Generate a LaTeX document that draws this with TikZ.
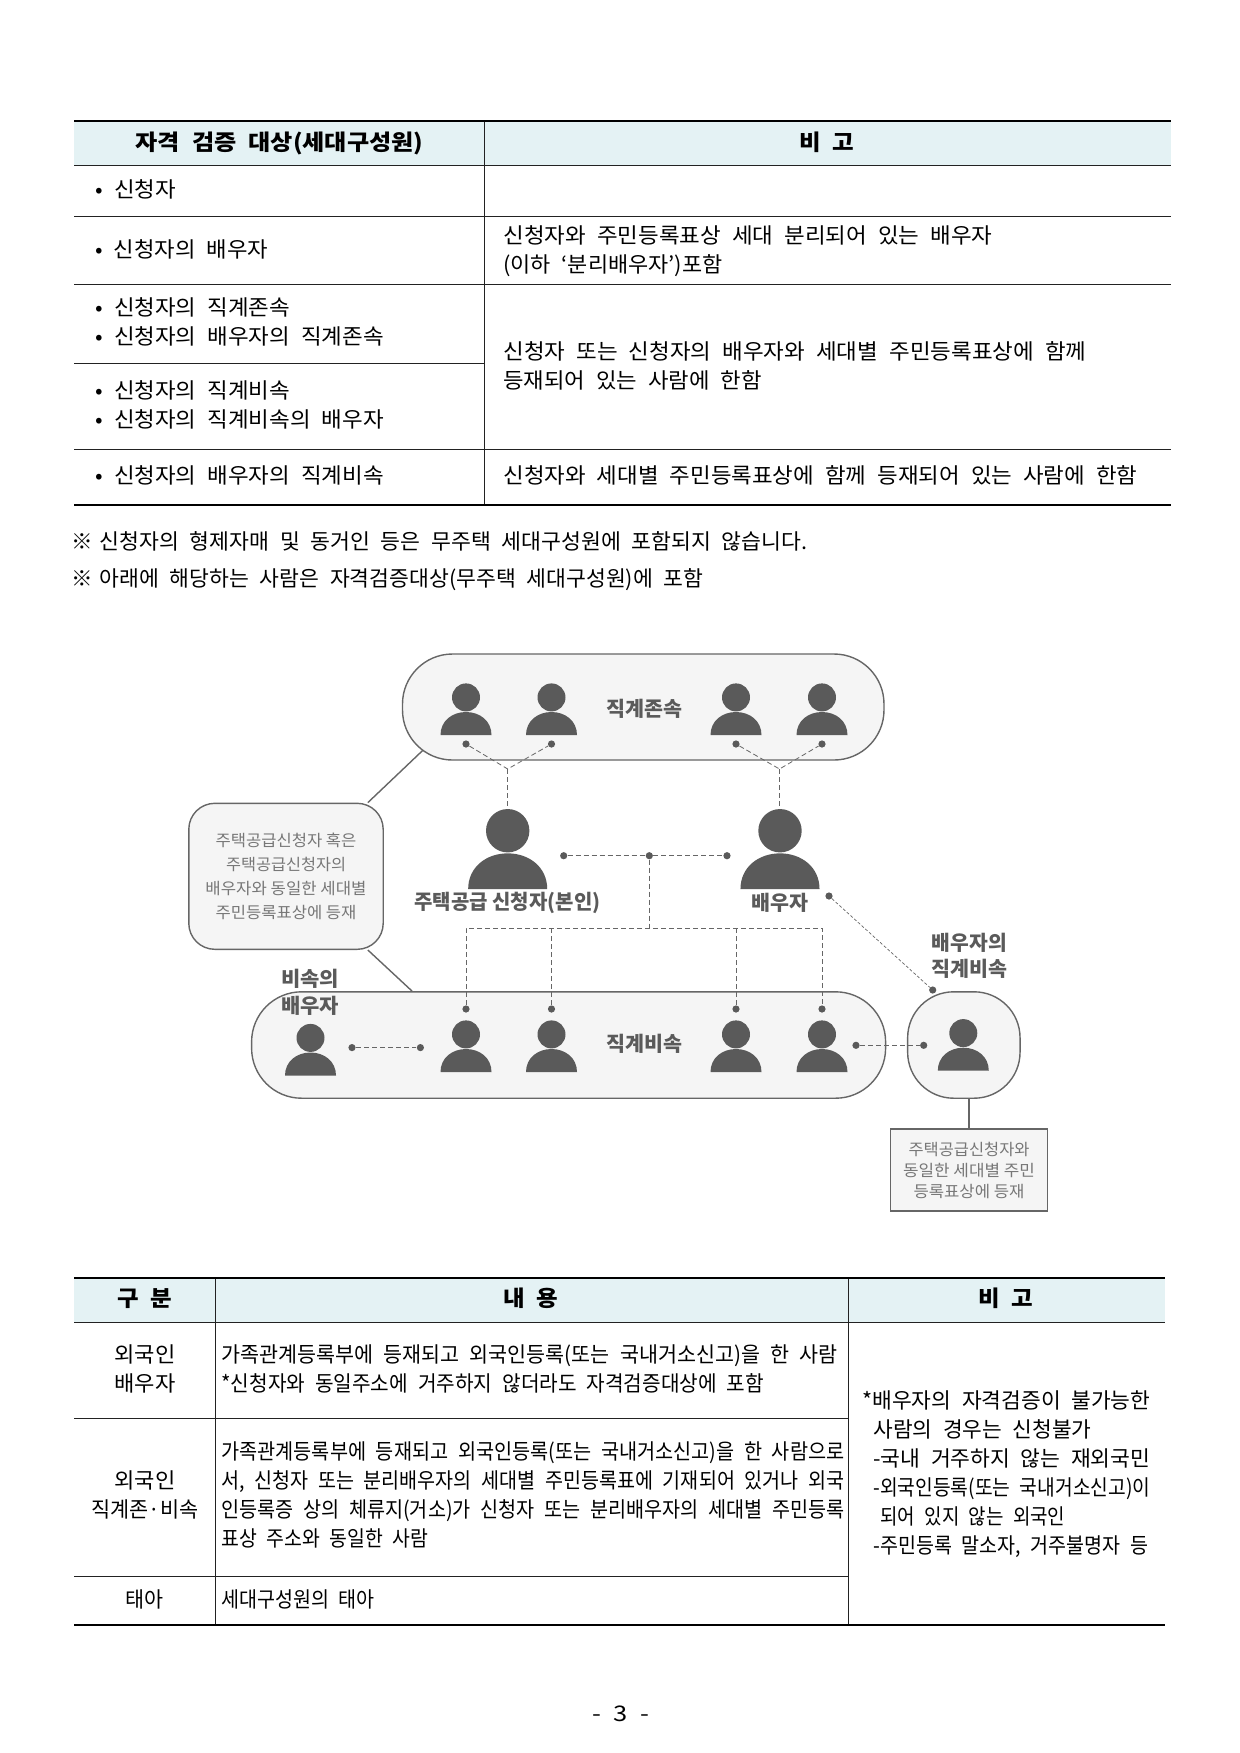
\documentclass[tikz,border=0pt]{standalone}
\usepackage{graphicx}
\usepackage{xcolor}
\usepackage{fontspec}
\setmainfont[WordSpace=2.2]{Noto Sans CJK KR}
\newfontfamily\diagfont{Noto Sans CJK KR}
\usetikzlibrary{backgrounds}
\definecolor{headfill}{HTML}{E4F2F4}
\definecolor{ruleink}{HTML}{222222}
\definecolor{iconink}{HTML}{5A5A5A}
\definecolor{groupfill}{HTML}{F5F5F5}
\definecolor{groupline}{HTML}{666666}
\definecolor{softtext}{HTML}{777777}
\newlength\pxu
\setlength\pxu{.5pt}
\newcommand{\fitw}[2]{\resizebox{#1\pxu}{\height}{#2}}
\begin{document}
\begin{tikzpicture}[
    x=.5pt, y=-.5pt,
    thick rule/.style={draw=black, line width=1.1pt},
    thin rule/.style={draw=ruleink, line width=.5pt},
    cell/.style={anchor=west, inner sep=0pt, text height=9pt, text depth=1pt,
      font=\fontsize{10.75}{13}\selectfont, text=black},
    mid/.style={cell, anchor=center},
    headcell/.style={mid, font=\fontsize{11}{13}\selectfont\bfseries},
    group/.style={draw=groupline, fill=groupfill, line width=.7pt, inner sep=0pt},
    link/.style={draw=groupline, line width=.7pt},
    flow/.style={draw=groupline, line width=.4pt, dash pattern=on 2.5pt off 1.5pt},
    fine/.style={draw=groupline, line width=.35pt, dash pattern=on 1.5pt off 1pt},
    dot/.style={circle, fill=iconink, inner sep=0pt, minimum size=3.6pt},
    tag/.style={inner sep=0pt, text height=9pt, text depth=1.4pt,
      font=\diagfont\fontsize{10.25}{12}\selectfont\bfseries, text=iconink},
    small/.style={inner sep=0pt, font=\diagfont\fontsize{8}{10}\selectfont, text=softtext},
    person/.pic={
      \fill[iconink] (0,-37.6) circle[radius=14];
      \fill[iconink] (-25.5,0) .. controls (-25.5,-14) and (-14,-23) .. (0,-23)
        .. controls (14,-23) and (25.5,-14) .. (25.5,0) -- cycle;
      \coordinate (-top) at (0,-51.6);
    },
  ]
  \useasboundingbox (0,0) rectangle (1240,1753);

  % first table
  \fill[headfill] (74,121) rectangle (1171,165.5);
  \draw[thin rule] (484,121) -- (484,505);
  \draw[thin rule] (74,165.5) -- (1171,165.5);
  \draw[thin rule] (74,216) -- (1171,216);
  \draw[thin rule] (74,284) -- (1171,284);
  \draw[thin rule] (74,363.5) -- (484,363.5);
  \draw[thin rule] (74,449.5) -- (1171,449.5);
  \draw[thick rule] (74,121) -- (1171,121);
  \draw[thick rule] (74,505) -- (1171,505);

  \node[headcell] (h1) at (279.5,142) {\fitw{288}{자격 검증 대상(세대구성원)}};
  \node[headcell] (h2) at (827,142) {\fitw{55}{비 고}};
  \node[cell] (a1) at (95,189) {\fitw{80.5}{• 신청자}};
  \node[cell] (a2) at (95,249) {\fitw{173}{• 신청자의 배우자}};
  \node[cell] (a3) at (95,307.5) {\fitw{194.6}{• 신청자의 직계존속}};
  \node[cell] (a4) at (95,336.5) {\fitw{288.5}{• 신청자의 배우자의 직계존속}};
  \node[cell] (a5) at (95,390) {\fitw{194.6}{• 신청자의 직계비속}};
  \node[cell] (a6) at (95,419) {\fitw{288.5}{• 신청자의 직계비속의 배우자}};
  \node[cell] (a7) at (95,475) {\fitw{288.5}{• 신청자의 배우자의 직계비속}};
  \node[cell] (b1) at (503,235) {\fitw{489}{신청자와 주민등록표상 세대 분리되어 있는 배우자}};
  \node[cell] (b2) at (503,264) {\fitw{219}{(이하 ‘분리배우자’)포함}};
  \node[cell] (b3) at (503,351) {\fitw{583}{신청자 또는 신청자의 배우자와 세대별 주민등록표상에 함께}};
  \node[cell] (b4) at (503,380) {\fitw{258.5}{등재되어 있는 사람에 한함}};
  \node[cell] (b5) at (503,475) {\fitw{634}{신청자와 세대별 주민등록표상에 함께 등재되어 있는 사람에 한함}};
  \node[cell] (n1) at (71.5,541) {\fitw{735.5}{※\kern-2.2pt{} 신청자의 형제자매 및 동거인 등은 무주택 세대구성원에 포함되지 않습니다.}};
  \node[cell] (n2) at (71.5,578) {\fitw{631.5}{※\kern-2.2pt{} 아래에 해당하는 사람은 자격검증대상(무주택 세대구성원)에 포함}};

  % diagram groups
  \node[group, rounded corners=25pt, minimum width=240.75pt, minimum height=53pt] (topgroup) at (643.25,707) {};
  \node[group, rounded corners=25pt, minimum width=317pt, minimum height=53.2pt] (botgroup) at (568.6,1045) {};
  \node[group, rounded corners=23pt, minimum width=56.2pt, minimum height=53.2pt] (sidegroup) at (963.85,1045) {};
  \node[group, rounded corners=13pt, minimum width=97.2pt, minimum height=73pt] (callout) at (286,876.3) {};
  \node[group, minimum width=78.3pt, minimum height=41pt] (note) at (969,1170) {};
  \coordinate (uplink) at (440,734);
  \begin{scope}[on background layer]
    \draw[link] (callout.42) -- (uplink);
    \draw[link] (callout.-42) -- (botgroup.161);
  \end{scope}
  \draw[link] (note.north) -- (note.north |- sidegroup.south);

  \node[small] (c1) at (286,840) {\fitw{141}{주택공급신청자 혹은}};
  \node[small] (c2) at (286,864.3) {\fitw{120}{주택공급신청자의}};
  \node[small] (c3) at (286,888.3) {\fitw{161}{배우자와 동일한 세대별}};
  \node[small] (c4) at (286,912.7) {\fitw{141}{주민등록표상에 등재}};
  \node[small] (m1) at (969,1149) {\fitw{121}{주택공급신청자와}};
  \node[small] (m2) at (969,1170) {\fitw{132}{동일한 세대별 주민}};
  \node[small] (m3) at (969,1191) {\fitw{111}{등록표상에 등재}};

  % people
  \pic (up1) at (466,735) {person};
  \pic (up2) at (551.5,735) {person};
  \pic (up3) at (736,735) {person};
  \pic (up4) at (822,735) {person};
  \pic[scale=1.55] (self) at (507.7,889) {person};
  \pic[scale=1.55] (spouse) at (780,889) {person};
  \pic (inlaw) at (310.5,1075.5) {person};
  \pic (kid1) at (466,1072) {person};
  \pic (kid2) at (551.5,1072) {person};
  \pic (kid3) at (736,1072) {person};
  \pic (kid4) at (822,1072) {person};
  \pic (grand) at (963.3,1070.7) {person};

  % dots
  \node[dot] (du1) at (466,744) {};
  \node[dot] (du2) at (551.5,744) {};
  \node[dot] (du3) at (736,744) {};
  \node[dot] (du4) at (822,744) {};
  \node[dot] (dself) at (563.7,855.7) {};
  \node[dot] (dmid) at (649.3,855.7) {};
  \node[dot] (dspouse) at (727,855.7) {};
  \node[dot] (dfar) at (829,896) {};
  \node[dot] (dside) at (932.7,990) {};
  \node[dot] (dk1) at (466,1009) {};
  \node[dot] (dk2) at (551.5,1009) {};
  \node[dot] (dk3) at (736,1009) {};
  \node[dot] (dk4) at (822,1009) {};
  \node[dot] (dl1) at (352,1047.6) {};
  \node[dot] (dl2) at (420.4,1047.6) {};
  \node[dot] (dr1) at (856,1045.3) {};
  \node[dot] (dr2) at (923.7,1045.3) {};
  \coordinate (joinl) at (507.7,769);
  \coordinate (joinr) at (779.5,769);
  \coordinate (bus) at (649.3,928);

  % dashed lines
  \draw[flow] (du1) -- (joinl) -- (du2);
  \draw[flow] (joinl) -- (joinl |- self-top);
  \draw[flow] (du3) -- (joinr) -- (du4);
  \draw[flow] (joinr) -- (joinr |- spouse-top);
  \draw[flow] (dself) -- (dmid);
  \draw[flow] (dmid) -- (dspouse);
  \draw[flow] (dmid) -- (bus);
  \draw[flow] (dk1) -- (dk1 |- bus) -- (dk4 |- bus) -- (dk4);
  \draw[flow] (dk2) -- (dk2 |- bus);
  \draw[flow] (dk3) -- (dk3 |- bus);
  \draw[fine] (dfar) -- (dside);
  \draw[flow] (dl1) -- (dl2);
  \draw[flow] (dr1) -- (dr2);

  % labels
  \node[tag] (l1) at (644,709) {\fitw{76}{직계존속}};
  \node[tag] (l2) at (644,1044) {\fitw{76}{직계비속}};
  \node[tag] (l3) at (507.5,902) {\fitw{186}{주택공급 신청자(본인)}};
  \node[tag] (l4) at (780,903) {\fitw{57}{배우자}};
  \node[tag] (l5) at (969.3,943) {\fitw{75}{배우자의}};
  \node[tag] (l6) at (969.3,969) {\fitw{76}{직계비속}};
  \node[tag] (l7) at (310,979) {\fitw{58}{비속의}};
  \node[tag] (l8) at (310,1006) {\fitw{58}{배우자}};

  % second table
  \fill[headfill] (74,1278) rectangle (1165,1322);
  \draw[thin rule] (215.4,1278) -- (215.4,1625);
  \draw[thin rule] (848.6,1278) -- (848.6,1625);
  \draw[thin rule] (74,1322) -- (1165,1322);
  \draw[thin rule] (74,1418.7) -- (848.6,1418.7);
  \draw[thin rule] (74,1576) -- (848.6,1576);
  \draw[thick rule] (74,1278) -- (1165,1278);
  \draw[thick rule] (74,1625) -- (1165,1625);

  \node[headcell] (t1) at (145,1298) {\fitw{55}{구 분}};
  \node[headcell] (t2) at (531,1298) {\fitw{55}{내 용}};
  \node[headcell] (t3) at (1006,1298) {\fitw{55}{비 고}};
  \node[mid] (k1) at (145,1354) {\fitw{61}{외국인}};
  \node[mid] (k2) at (145,1383) {\fitw{61}{배우자}};
  \node[mid] (k3) at (145,1480) {\fitw{61}{외국인}};
  \node[mid] (k4) at (145,1509) {\fitw{107}{직계존·비속}};
  \node[mid] (k5) at (145,1599) {\fitw{38}{태아}};
  \node[cell] (r1) at (221,1354) {\fitw{616}{가족관계등록부에 등재되고 외국인등록(또는 국내거소신고)을 한 사람}};
  \node[cell] (r2) at (221,1383) {\fitw{542.6}{*신청자와 동일주소에 거주하지 않더라도 자격검증대상에 포함}};
  \node[cell] (r3) at (221,1451) {\fitw{623}{가족관계등록부에 등재되고 외국인등록(또는 국내거소신고)을 한 사람으로}};
  \node[cell] (r4) at (221,1480) {\fitw{623}{서, 신청자 또는 분리배우자의 세대별 주민등록표에 기재되어 있거나 외국}};
  \node[cell] (r5) at (221,1509) {\fitw{623}{인등록증 상의 체류지(거소)가 신청자 또는 분리배우자의 세대별 주민등록}};
  \node[cell] (r6) at (221,1538) {\fitw{207}{표상 주소와 동일한 사람}};
  \node[cell] (r7) at (221,1599) {\fitw{153.5}{세대구성원의 태아}};
  \node[cell] (s1) at (862,1400) {\fitw{288}{*배우자의 자격검증이 불가능한}};
  \node[cell] (s2) at (873,1429) {\fitw{218}{사람의 경우는 신청불가}};
  \node[cell] (s3) at (873,1458) {\fitw{277}{-국내 거주하지 않는 재외국민}};
  \node[cell] (s4) at (873,1487) {\fitw{277}{-외국인등록(또는 국내거소신고)이}};
  \node[cell] (s5) at (880,1516) {\fitw{185}{되어 있지 않는 외국인}};
  \node[cell] (s6) at (873,1545) {\fitw{275}{-주민등록 말소자, 거주불명자 등}};

  \node[mid] (pageno) at (620.5,1713) {\fitw{57}{- 3 -}};
\end{tikzpicture}
\end{document}
